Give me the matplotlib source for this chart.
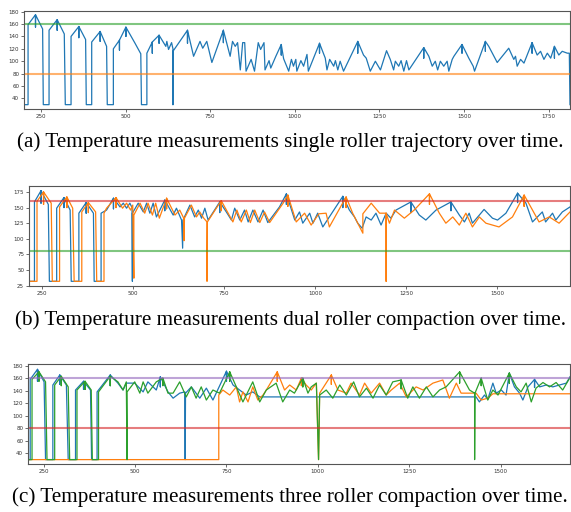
import matplotlib
matplotlib.use("Agg")
import matplotlib.pyplot as plt

# ---------------- data (time, temperature) ----------------
single_pts = [
    (200, 30), (212, 30), (212, 159), (234, 175), (234, 155), (234, 175), (255, 152), (257, 30),
    (274, 30), (274, 150), (298, 167), (298, 150), (298, 167), (319, 144), (322, 30),
    (339, 30), (339, 140), (362, 156), (362, 138), (362, 156), (382, 135), (384, 30),
    (400, 30), (400, 131), (425, 148), (425, 132), (425, 148), (444, 124), (446, 30),
    (464, 30), (464, 120), (482, 134), (482, 118), (482, 134), (501, 155), (501, 140), (501, 155),
    (528, 129), (545, 112), (547, 30), (563, 30), (563, 113), (579, 131), (579, 113), (579, 131),
    (599, 142), (599, 129), (599, 142), (619, 124), (622, 132), (627, 119), (636, 130),
    (640, 120), (640, 30), (640, 116), (683, 150), (683, 129), (683, 150), (701, 108),
    (720, 132), (728, 121), (740, 132), (755, 98), (789, 150), (789, 130), (789, 150),
    (809, 108), (816, 132), (824, 124), (831, 130), (839, 86), (846, 130), (852, 130),
    (856, 84), (871, 103), (881, 84), (892, 130), (899, 119), (909, 130), (912, 86),
    (924, 101), (929, 89), (944, 108), (960, 127), (960, 110), (960, 127), (967, 104),
    (982, 84), (990, 103), (996, 92), (1003, 103), (1006, 84), (1018, 101), (1026, 92),
    (1036, 111), (1040, 84), (1073, 129), (1073, 113), (1073, 129), (1090, 105), (1095, 86),
    (1103, 103), (1115, 92), (1120, 101), (1127, 86), (1134, 100), (1144, 84), (1186, 132),
    (1186, 113), (1186, 132), (1203, 110), (1211, 105), (1223, 84), (1238, 100), (1253, 86),
    (1271, 117), (1282, 103), (1292, 86), (1297, 100), (1307, 92), (1314, 101), (1322, 84),
    (1330, 101), (1337, 86), (1381, 122), (1381, 105), (1381, 122), (1396, 108), (1406, 92),
    (1415, 100), (1422, 86), (1430, 100), (1440, 92), (1450, 100), (1455, 84), (1465, 103),
    (1470, 108), (1494, 127), (1494, 113), (1494, 127), (1514, 105), (1527, 92), (1531, 84),
    (1563, 132), (1563, 116), (1563, 132), (1573, 124), (1598, 98), (1632, 121), (1647, 103),
    (1652, 108), (1657, 92), (1667, 103), (1677, 97), (1701, 130), (1701, 113), (1701, 130),
    (1716, 110), (1726, 116), (1736, 103), (1746, 113), (1756, 105), (1767, 124), (1767, 105),
    (1767, 124), (1780, 110), (1790, 116), (1805, 113), (1811, 113), (1813, 30),
]

dual_blue_pts = [
    (214, 32), (229, 32), (229, 159), (247, 177), (247, 157), (247, 177), (267, 155), (270, 32),
    (290, 32), (290, 149), (310, 166), (310, 150), (310, 166), (327, 146), (330, 32),
    (351, 32), (351, 141), (371, 158), (371, 141), (371, 158), (391, 141), (393, 32),
    (412, 32), (412, 141), (427, 146), (446, 165), (446, 148), (446, 165), (464, 151), (473, 157),
    (482, 149), (491, 157), (497, 150), (498, 32), (498, 141), (514, 157), (528, 143), (537, 157),
    (546, 141), (555, 157), (564, 135), (587, 162), (587, 145), (587, 162), (610, 138), (619, 149),
    (633, 130), (636, 85), (637, 130), (656, 154), (669, 135), (679, 146), (688, 133), (697, 149),
    (706, 130), (738, 159), (738, 142), (738, 159), (756, 143), (770, 130), (779, 149), (793, 130),
    (806, 146), (816, 127), (829, 146), (843, 127), (857, 146), (870, 126), (902, 151), (921, 172),
    (921, 155), (921, 172), (944, 130), (957, 143), (966, 125), (985, 141), (994, 125), (1007, 141),
    (1021, 119), (1076, 168), (1076, 150), (1076, 168), (1094, 146), (1108, 135), (1117, 125),
    (1129, 117), (1140, 135), (1154, 130), (1167, 141), (1181, 122), (1195, 141), (1208, 133),
    (1222, 146), (1263, 159), (1263, 142), (1263, 159), (1286, 138), (1304, 130), (1332, 146),
    (1373, 159), (1373, 145), (1373, 159), (1396, 138), (1410, 127), (1423, 141), (1432, 125),
    (1451, 138), (1464, 147), (1487, 133), (1501, 130), (1524, 141), (1556, 173), (1556, 158),
    (1556, 173), (1579, 157), (1597, 127), (1624, 143), (1633, 127), (1652, 141), (1661, 130),
    (1679, 143), (1700, 151),
]

dual_orange_pts = [
    (214, 32), (236, 32), (236, 160), (254, 175), (254, 155), (254, 175), (275, 157), (278, 32),
    (298, 32), (298, 151), (318, 167), (318, 150), (318, 167), (334, 149), (338, 32),
    (359, 32), (359, 143), (377, 158), (377, 142), (377, 158), (397, 143), (400, 32),
    (420, 32), (420, 141), (427, 149), (453, 166), (453, 150), (453, 166), (471, 149), (482, 157),
    (493, 146), (499, 154), (502, 37), (502, 138), (519, 157), (532, 141), (541, 157), (553, 138),
    (562, 157), (572, 133), (592, 165), (592, 148), (592, 165), (615, 138), (628, 146), (639, 133),
    (640, 97), (641, 133), (660, 154), (674, 135), (683, 143), (694, 133), (703, 127), (703, 32),
    (704, 127), (742, 161), (742, 145), (742, 161), (761, 141), (774, 127), (785, 146), (797, 127),
    (811, 146), (822, 126), (834, 146), (848, 126), (861, 143), (875, 126), (912, 157), (925, 170),
    (925, 152), (925, 170), (948, 127), (971, 141), (989, 122), (1010, 140), (1030, 141),
    (1039, 119), (1085, 167), (1085, 150), (1085, 167), (1103, 141), (1131, 109), (1131, 140),
    (1154, 157), (1177, 141), (1195, 141), (1195, 32), (1195, 141), (1204, 125), (1218, 146),
    (1245, 133), (1272, 146), (1314, 172), (1314, 155), (1314, 172), (1341, 141), (1359, 125),
    (1378, 135), (1396, 122), (1414, 141), (1432, 119), (1451, 135), (1469, 125), (1505, 119),
    (1542, 135), (1574, 170), (1574, 152), (1574, 170), (1597, 146), (1615, 127), (1643, 135),
    (1670, 125), (1700, 143),
]

triple_blue_pts = [
    (207, 30), (213, 30), (213, 158), (233, 174), (233, 155), (233, 174), (251, 154), (255, 30),
    (275, 30), (275, 149), (294, 165), (294, 150), (294, 165), (312, 149), (317, 30),
    (337, 30), (337, 141), (359, 155), (359, 142), (359, 155), (378, 141), (381, 30),
    (396, 30), (396, 138), (432, 165), (432, 148), (432, 165), (453, 152), (467, 141), (476, 152),
    (499, 152), (522, 138), (535, 154), (558, 141), (569, 162), (569, 146), (569, 162), (590, 138),
    (604, 128), (622, 136), (636, 138), (637, 30), (638, 136), (654, 146), (677, 128), (695, 144),
    (713, 125), (750, 171), (750, 155), (750, 171), (768, 149), (786, 141), (804, 133), (822, 138),
    (841, 130), (1433, 130), (1442, 122), (1456, 133), (1465, 126), (1479, 152), (1488, 136),
    (1502, 141), (1515, 133), (1524, 168), (1524, 152), (1524, 168), (1538, 146), (1552, 136),
    (1561, 125), (1575, 146), (1593, 158), (1593, 145), (1593, 158), (1607, 146), (1625, 149),
    (1643, 146), (1661, 149), (1680, 152), (1690, 162),
]

triple_orange_pts = [
    (207, 30), (729, 30), (729, 133), (740, 141), (759, 133), (777, 146), (786, 122), (795, 138),
    (809, 122), (822, 146), (836, 125), (850, 133), (859, 141), (889, 170), (889, 155), (889, 170),
    (909, 141), (923, 149), (941, 141), (955, 160), (955, 148), (955, 160), (968, 149), (982, 141),
    (996, 152), (1002, 30), (1005, 136), (1037, 165), (1037, 150), (1037, 165), (1055, 141),
    (1078, 136), (1091, 152), (1114, 133), (1128, 152), (1146, 136), (1169, 152), (1187, 133),
    (1201, 141), (1224, 152), (1242, 130), (1269, 146), (1288, 141), (1315, 152), (1342, 157),
    (1360, 128), (1379, 152), (1392, 136), (1433, 136), (1447, 125), (1465, 128), (1479, 135),
    (1690, 135),
]

triple_green_pts = [
    (207, 30), (218, 30), (218, 158), (237, 170), (237, 155), (237, 170), (255, 154), (259, 30),
    (280, 30), (280, 149), (298, 163), (298, 148), (298, 163), (317, 146), (321, 30),
    (341, 30), (341, 141), (363, 155), (363, 142), (363, 155), (380, 141), (383, 30),
    (400, 30), (400, 138), (432, 163), (432, 148), (432, 163), (453, 154), (467, 141), (476, 154),
    (478, 30), (478, 138), (499, 154), (513, 136), (522, 154), (535, 136), (558, 154), (576, 160),
    (576, 148), (576, 160), (590, 136), (604, 136), (622, 154), (640, 130), (654, 146), (667, 128),
    (681, 146), (695, 125), (713, 141), (731, 136), (759, 170), (759, 155), (759, 170), (777, 146),
    (795, 122), (822, 154), (841, 122), (859, 141), (886, 152), (904, 122), (923, 141), (936, 136),
    (959, 160), (959, 146), (959, 160), (973, 136), (982, 146), (996, 152), (1002, 30), (1005, 133),
    (1023, 141), (1041, 128), (1060, 149), (1078, 133), (1098, 154), (1114, 130), (1133, 144),
    (1151, 128), (1169, 149), (1187, 133), (1205, 154), (1228, 157), (1228, 143), (1228, 157),
    (1246, 128), (1260, 146), (1278, 128), (1297, 146), (1315, 130), (1333, 141), (1351, 146),
    (1388, 170), (1388, 152), (1388, 170), (1415, 141), (1429, 136), (1429, 30), (1430, 136),
    (1447, 160), (1447, 148), (1447, 160), (1465, 125), (1479, 141), (1493, 133), (1524, 168),
    (1524, 152), (1524, 168), (1543, 146), (1556, 138), (1570, 152), (1584, 122), (1597, 144),
    (1616, 153), (1634, 146), (1652, 153), (1670, 141), (1690, 161),
]

upper_limit = 160
lower_limit = 80

captions = [
    "(a) Temperature measurements single roller trajectory over time.",
    "(b) Temperature measurements dual roller compaction over time.",
    "(c) Temperature measurements three roller compaction over time.",
]

a_xticks = [250, 500, 750, 1000, 1250, 1500, 1750]
a_yticks = [40, 60, 80, 100, 120, 140, 160, 180]
b_xticks = [250, 500, 750, 1000, 1250, 1500]
b_yticks = [25, 50, 75, 100, 125, 150, 175]
c_xticks = [250, 500, 750, 1000, 1250, 1500]
c_yticks = [40, 60, 80, 100, 120, 140, 160, 180]

# ---------------- figure ----------------
W, H = 571, 512
fig = plt.figure(figsize=(W / 100, H / 100), dpi=100)

def px_axes(l, t, r, b):
    return [l / W, 1 - b / H, (r - l) / W, (b - t) / H]

def style(ax, xt, yt):
    ax.set_xticks(xt)
    ax.set_yticks(yt)
    ax.tick_params(labelsize=4, length=2, width=0.5, pad=1.5, colors="#333333")
    for s in ax.spines.values():
        s.set_color("#555555")
        s.set_linewidth(0.8)

def draw(ax, pts, color):
    xs = [p[0] for p in pts]
    ys = [p[1] for p in pts]
    ax.plot(xs, ys, color=color, lw=0.9)

lw_h = 1.5
al_h = 0.6

# (a)
ax1 = fig.add_axes(px_axes(24, 11, 570, 109))
draw(ax1, single_pts, "C0")
ax1.axhline(lower_limit, color="C1", lw=lw_h, alpha=al_h)
ax1.axhline(upper_limit, color="C2", lw=lw_h, alpha=al_h)
ax1.set_xlim(200, 1813)
ax1.set_ylim(23, 181)
style(ax1, a_xticks, a_yticks)

# (b)
ax2 = fig.add_axes(px_axes(29, 186, 570, 286))
draw(ax2, dual_blue_pts, "C0")
draw(ax2, dual_orange_pts, "C1")
ax2.axhline(lower_limit, color="C2", lw=lw_h, alpha=al_h)
ax2.axhline(upper_limit, color="C3", lw=lw_h, alpha=al_h)
ax2.set_xlim(214, 1700)
ax2.set_ylim(24.5, 184.5)
style(ax2, b_xticks, b_yticks)

# (c)
ax3 = fig.add_axes(px_axes(28, 364, 570, 464))
draw(ax3, triple_blue_pts, "C0")
draw(ax3, triple_orange_pts, "C1")
draw(ax3, triple_green_pts, "C2")
ax3.axhline(lower_limit, color="C3", lw=lw_h, alpha=al_h)
ax3.axhline(upper_limit, color="C4", lw=lw_h, alpha=al_h)
ax3.set_xlim(207, 1690)
ax3.set_ylim(23, 182.5)
style(ax3, c_xticks, c_yticks)

cap_y = [142, 320, 497]
for cap, y in zip(captions, cap_y):
    fig.text(0.508, 1 - y / H, cap, ha="center", va="center",
             family=["Liberation Serif", "DejaVu Serif"], fontsize=15.2, color="black")

fig.savefig("out.png", dpi=100)
